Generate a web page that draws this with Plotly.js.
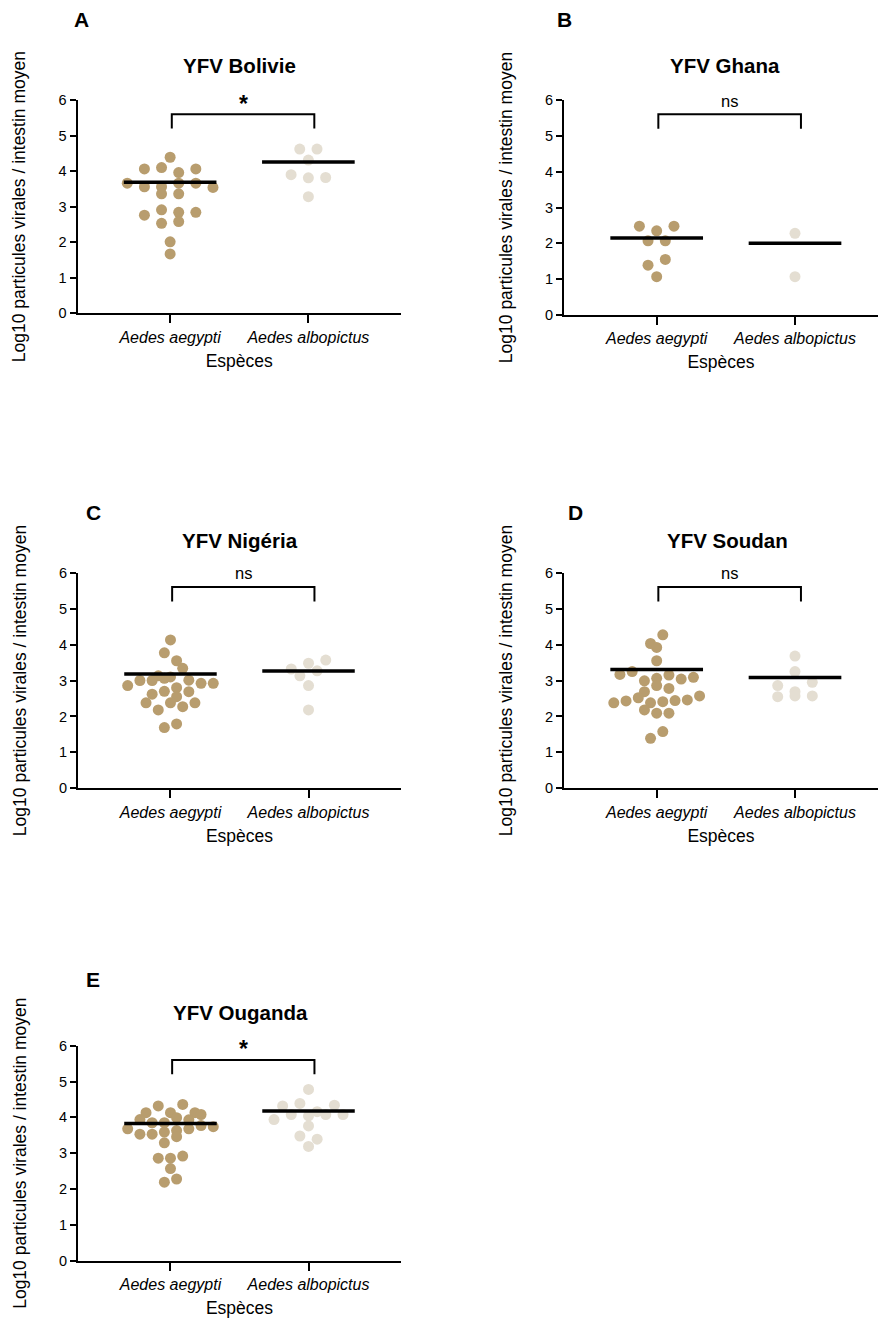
<!DOCTYPE html>
<html>
<head>
<meta charset="utf-8">
<script src="https://cdn.plot.ly/plotly-3.0.1.min.js"></script>
<style>
  html, body { margin: 0; padding: 0; background: #fff; }
  #chart { width: 878px; height: 1318px; }
</style>
</head>
<body>
<div id="chart"></div>
<script>
// ---------------- DATA ----------------
const categories = ['Aedes aegypti', 'Aedes albopictus'];
const panelLetters = ['A', 'B', 'C', 'D', 'E'];
const panelTitles = ['YFV Bolivie', 'YFV Ghana', 'YFV Nigéria', 'YFV Soudan', 'YFV Ouganda'];
const significance = ['*', 'ns', 'ns', 'ns', '*'];
const yAxisTitle = 'Log10 particules virales / intestin moyen';
const xAxisTitle = 'Espèces';
const yTicks = [0, 1, 2, 3, 4, 5, 6];

const bolivieAegypti = [4.39, 4.06, 4.10, 3.96, 4.06, 3.66, 3.56, 3.56, 3.66, 3.66, 3.54, 3.36, 3.36, 2.76, 2.91, 2.84, 2.84, 2.53, 2.58, 2.01, 1.67];
const bolivieAlbopictus = [4.62, 4.62, 4.31, 3.90, 3.81, 3.82, 3.28];

const ghanaAegypti = [2.48, 2.35, 2.48, 2.07, 2.07, 1.39, 1.55, 1.07];
const ghanaAlbopictus = [2.28, 1.07];

const nigeriaAegypti = [4.13, 3.77, 3.55, 3.13, 3.10, 3.34, 2.86, 3.00, 3.00, 3.06, 2.80, 3.01, 2.92, 2.92, 2.62, 2.70, 2.55, 2.69, 2.38, 2.18, 2.38, 2.27, 2.38, 1.69, 1.79];
const nigeriaAlbopictus = [3.32, 3.48, 3.57, 3.13, 3.27, 2.86, 2.18];

const soudanAegypti = [4.03, 4.27, 3.92, 3.55, 3.17, 3.25, 2.99, 3.06, 3.15, 3.04, 3.09, 2.69, 2.86, 2.78, 2.38, 2.43, 2.52, 2.38, 2.41, 2.44, 2.46, 2.57, 2.18, 2.09, 2.09, 1.39, 1.58];
const soudanAlbopictus = [3.68, 3.25, 2.86, 2.69, 2.95, 2.55, 2.57, 2.57];

const ougandaAegypti = [4.13, 4.32, 4.13, 4.36, 4.13, 3.94, 3.85, 3.85, 3.99, 3.93, 4.08, 3.68, 3.53, 3.53, 3.59, 3.63, 3.68, 3.77, 3.74, 3.29, 3.46, 2.86, 2.86, 2.92, 2.57, 2.19, 2.28];
const ougandaAlbopictus = [4.78, 4.32, 4.39, 4.16, 4.34, 3.94, 4.08, 4.04, 4.08, 4.08, 3.76, 3.48, 3.39, 3.19];

const panelSeries = [
  [bolivieAegypti, bolivieAlbopictus],
  [ghanaAegypti, ghanaAlbopictus],
  [nigeriaAegypti, nigeriaAlbopictus],
  [soudanAegypti, soudanAlbopictus],
  [ougandaAegypti, ougandaAlbopictus]
];

// ---------------- LAYOUT / STYLE ----------------
const W = 878, H = 1318;
const FONT = 'Liberation Sans, Arial, Helvetica, sans-serif';
const seriesColors = ['#B89D6E', '#E4DED2'];
// plot boxes in pixels (left, right, top, bottom), x-axis right limit, title centre
const boxes = [
  {l: 77.5, r: 401, t: 100, b: 313.3, xmax: 1.67, letter: [81, 20], title: 66, tx: 239},
  {l: 564,  r: 878, t: 100, b: 315,   xmax: 1.60, letter: [564, 20], title: 66, tx: 725},
  {l: 78,   r: 401, t: 572.7, b: 788.3, xmax: 1.67, letter: [93, 512], title: 540, tx: 240},
  {l: 564,  r: 878, t: 572.7, b: 788.3, xmax: 1.60, letter: [575, 512], title: 540, tx: 727},
  {l: 78,   r: 401, t: 1045.7, b: 1260.7, xmax: 1.67, letter: [93, 980], title: 1012, tx: 240}
];
const XMIN = -0.67;
const ROW_H = 0.275;      // data units grouping rows in the dot plot
const MAX_HALF = 0.31;    // max half-width of a row of dots
const BASE_STEP = 0.125;  // preferred spacing between dots
const LINE_HALF = 0.335;  // half width of the summary bar
const BRACKET = {x0: 0.012, x1: 1.043, top: 5.6, leg: 5.2, label: 5.98};

// beeswarm-like layout of dots computed from the values
function swarmOffsets(values) {
  const order = values.map((v, i) => i).sort((a, b) => values[b] - values[a] || a - b);
  const rows = [];
  let i = 0;
  while (i < order.length) {
    const top = values[order[i]];
    const row = [];
    while (i < order.length && values[order[i]] > top - ROW_H) { row.push(order[i]); i++; }
    row.sort((a, b) => a - b);
    rows.push(row);
  }
  const maxN = Math.max(...rows.map(r => r.length));
  const step = maxN > 1 ? Math.min(BASE_STEP, 2 * MAX_HALF / (maxN - 1)) : BASE_STEP;
  const off = new Array(values.length).fill(0);
  rows.forEach(r => r.forEach((idx, k) => { off[idx] = (k - (r.length - 1) / 2) * step; }));
  return off;
}
// summary line: log10 of the arithmetic mean of the linear titres
function logMean(values) {
  const m = values.reduce((s, v) => s + Math.pow(10, v), 0) / values.length;
  return Math.log10(m);
}

const traces = [];
const layout = {
  width: W, height: H,
  margin: {l: 0, r: 0, t: 0, b: 0},
  paper_bgcolor: '#fff', plot_bgcolor: 'rgba(0,0,0,0)',
  showlegend: false,
  font: {family: FONT, color: '#000'},
  annotations: []
};

panelSeries.forEach((series, p) => {
  const bx = boxes[p];
  const n = p + 1;
  const xa = 'x' + (n === 1 ? '' : n), ya = 'y' + (n === 1 ? '' : n);
  const xKey = 'xaxis' + (n === 1 ? '' : n), yKey = 'yaxis' + (n === 1 ? '' : n);

  layout[xKey] = {
    domain: [bx.l / W, bx.r / W], anchor: ya,
    range: [XMIN, bx.xmax], fixedrange: true,
    tickmode: 'array', tickvals: categories.map((c, i) => i),
    ticktext: categories.map(c => '<i>' + c + '</i>'),
    ticks: 'outside', ticklen: 8, tickwidth: 2, tickcolor: '#000',
    showline: true, linewidth: 2, linecolor: '#000',
    showgrid: false, zeroline: false,
    tickfont: {family: FONT, size: 16, color: '#000'},
    title: {text: xAxisTitle, font: {family: FONT, size: 17.5, color: '#000'}, standoff: 10}
  };
  layout[yKey] = {
    domain: [1 - bx.b / H, 1 - bx.t / H], anchor: xa,
    range: [0, 6], fixedrange: true,
    tickmode: 'array', tickvals: yTicks,
    ticks: 'outside', ticklen: 6, tickwidth: 2, tickcolor: '#000',
    showline: true, linewidth: 2, linecolor: '#000',
    showgrid: false, zeroline: false,
    tickfont: {family: FONT, size: 14.5, color: '#000'},
    title: {text: yAxisTitle, font: {family: FONT, size: 17.5, color: '#000'}, standoff: 28}
  };

  series.forEach((vals, c) => {
    const off = swarmOffsets(vals);
    traces.push({
      type: 'scatter', mode: 'markers', xaxis: xa, yaxis: ya,
      x: vals.map((v, i) => c + off[i]), y: vals,
      marker: {size: 11, color: seriesColors[c], line: {width: 0}},
      cliponaxis: false, hoverinfo: 'y', name: categories[c]
    });
  });
  series.forEach((vals, c) => {
    const m = logMean(vals);
    traces.push({
      type: 'scatter', mode: 'lines', xaxis: xa, yaxis: ya,
      x: [c - LINE_HALF, c + LINE_HALF], y: [m, m],
      line: {color: '#000', width: 3.5}, cliponaxis: false, hoverinfo: 'skip'
    });
  });
  // significance bracket
  traces.push({
    type: 'scatter', mode: 'lines', xaxis: xa, yaxis: ya,
    x: [BRACKET.x0, BRACKET.x0, BRACKET.x1, BRACKET.x1],
    y: [BRACKET.leg, BRACKET.top, BRACKET.top, BRACKET.leg],
    line: {color: '#000', width: 2}, cliponaxis: false, hoverinfo: 'skip'
  });
  const star = significance[p] === '*';
  layout.annotations.push({
    xref: xa, yref: ya, x: (BRACKET.x0 + BRACKET.x1) / 2, y: BRACKET.label + (star ? -0.08 : 0),
    text: star ? '<b>*</b>' : significance[p], showarrow: false,
    font: {family: FONT, size: star ? 23 : 16.5, color: '#000'},
    xanchor: 'center', yanchor: 'middle'
  });
  // panel title
  layout.annotations.push({
    xref: 'paper', yref: 'paper',
    x: bx.tx / W, y: 1 - bx.title / H,
    text: '<b>' + panelTitles[p] + '</b>', showarrow: false,
    font: {family: FONT, size: 20.5, color: '#000'},
    xanchor: 'center', yanchor: 'middle'
  });
  // panel letter
  layout.annotations.push({
    xref: 'paper', yref: 'paper',
    x: bx.letter[0] / W, y: 1 - bx.letter[1] / H,
    text: '<b>' + panelLetters[p] + '</b>', showarrow: false,
    font: {family: FONT, size: 21, color: '#000'},
    xanchor: 'center', yanchor: 'middle'
  });
});

Plotly.newPlot('chart', traces, layout, {displayModeBar: false, staticPlot: true});
</script>
</body>
</html>
